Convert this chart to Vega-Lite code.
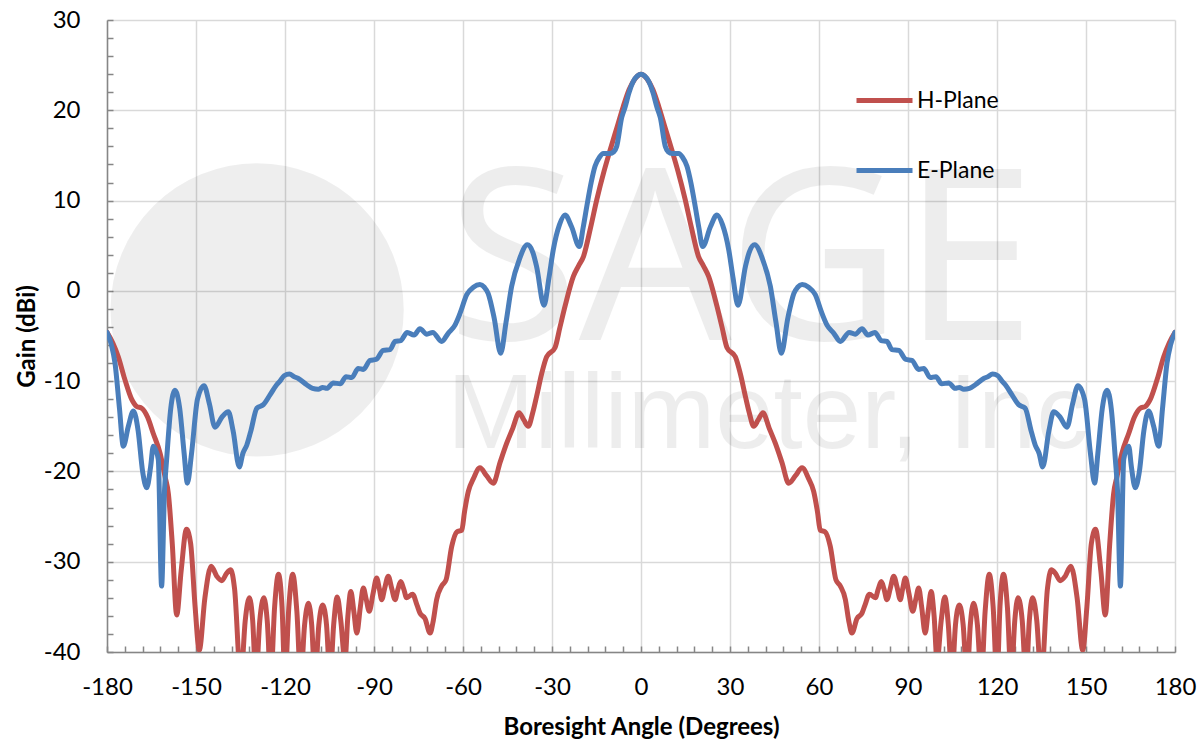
{
  "$schema": "https://vega.github.io/schema/vega-lite/v6.json",
  "width": 1068,
  "height": 632,
  "autosize": "none",
  "padding": {"left": 107, "top": 20, "right": 27, "bottom": 93},
  "background": "white",
  "config": {"view": {"stroke": null}, "font": "Lato"},
  "datasets": {
    "e": [
      {"a":-180,"g":-4.6},{"a":-178.5,"g":-6.0},{"a":-177.3,"g":-8.0},{"a":-175.8,"g":-13},{"a":-174.5,"g":-17.2},{"a":-172.8,"g":-15},{"a":-171.1,"g":-13.3},{"a":-169.5,"g":-15.5},{"a":-168,"g":-20},{"a":-166.6,"g":-21.8},{"a":-165.3,"g":-19.5},{"a":-164.4,"g":-17.2},{"a":-163.4,"g":-17.8},{"a":-162.7,"g":-18.7},{"a":-161.6,"g":-32.7},{"a":-160.6,"g":-22},{"a":-159.9,"g":-18.7},{"a":-158.5,"g":-13},{"a":-157.1,"g":-11.0},{"a":-155.5,"g":-13},{"a":-154,"g":-18},{"a":-152.9,"g":-21.3},{"a":-151.5,"g":-18},{"a":-149.5,"g":-12},{"a":-147.3,"g":-10.5},{"a":-145.5,"g":-12.5},{"a":-143.6,"g":-15.1},{"a":-141.3,"g":-14},{"a":-139.1,"g":-13.4},{"a":-137.5,"g":-15.5},{"a":-135.4,"g":-19.5},{"a":-134.2,"g":-18},{"a":-132.9,"g":-17.1},{"a":-131.5,"g":-15.5},{"a":-129.5,"g":-13.0},{"a":-127.3,"g":-12.6},{"a":-125,"g":-11.5},{"a":-122.8,"g":-10.4},{"a":-121.7,"g":-10.0},{"a":-120.3,"g":-9.4},{"a":-118.5,"g":-9.2},{"a":-117,"g":-9.5},{"a":-115.5,"g":-9.7},{"a":-112.7,"g":-10.4},{"a":-110.7,"g":-10.8},{"a":-108.8,"g":-10.9},{"a":-107.3,"g":-10.7},{"a":-105.9,"g":-10.8},{"a":-103.7,"g":-10.2},{"a":-101.4,"g":-10.3},{"a":-99.4,"g":-9.5},{"a":-97.5,"g":-9.6},{"a":-95.3,"g":-8.6},{"a":-93.6,"g":-8.7},{"a":-91.3,"g":-7.7},{"a":-89.3,"g":-7.6},{"a":-86.9,"g":-6.6},{"a":-84.6,"g":-6.5},{"a":-82.9,"g":-5.6},{"a":-81.0,"g":-5.5},{"a":-78.8,"g":-4.6},{"a":-76.5,"g":-4.9},{"a":-74.5,"g":-4.2},{"a":-72.2,"g":-4.8},{"a":-70.2,"g":-4.6},{"a":-67.2,"g":-5.6},{"a":-65.0,"g":-4.7},{"a":-62.7,"g":-3.8},{"a":-61.0,"g":-2.5},{"a":-58.7,"g":-0.4},{"a":-56.5,"g":0.4},{"a":-54.3,"g":0.7},{"a":-52.8,"g":0.4},{"a":-51.5,"g":-0.3},{"a":-49.5,"g":-3},{"a":-47.3,"g":-6.9},{"a":-45.5,"g":-3.5},{"a":-43.6,"g":0.5},{"a":-41,"g":3.5},{"a":-38.3,"g":5.1},{"a":-36.5,"g":4.3},{"a":-35.2,"g":2.7},{"a":-32.7,"g":-1.6},{"a":-31,"g":1.5},{"a":-29.6,"g":4.5},{"a":-27.5,"g":7.3},{"a":-25.6,"g":8.4},{"a":-23.4,"g":7.1},{"a":-20.8,"g":4.9},{"a":-19.5,"g":7},{"a":-18.3,"g":9.3},{"a":-16.8,"g":12},{"a":-15.5,"g":13.8},{"a":-14,"g":14.8},{"a":-12.7,"g":15.2},{"a":-10.5,"g":15.2},{"a":-9.2,"g":15.4},{"a":-8.2,"g":16.0},{"a":-6.5,"g":19.2},{"a":-5.4,"g":20.3},{"a":-4,"g":22},{"a":-2.6,"g":23.2},{"a":-1.2,"g":23.8},{"a":0,"g":24.0},
      {"a":1.2,"g":23.8},{"a":2.6,"g":23.2},{"a":4,"g":22},{"a":5.4,"g":20.3},{"a":6.5,"g":19.2},{"a":8.2,"g":16.0},{"a":9.2,"g":15.4},{"a":10.5,"g":15.2},{"a":12.7,"g":15.2},{"a":14,"g":14.8},{"a":15.5,"g":13.8},{"a":16.8,"g":12},{"a":18.3,"g":9.3},{"a":19.5,"g":7},{"a":20.8,"g":4.9},{"a":23.4,"g":7.1},{"a":25.6,"g":8.4},{"a":27.5,"g":7.3},{"a":29.6,"g":4.5},{"a":31,"g":1.5},{"a":32.7,"g":-1.6},{"a":35.2,"g":2.7},{"a":36.5,"g":4.3},{"a":38.3,"g":5.1},{"a":41,"g":3.5},{"a":43.6,"g":0.5},{"a":45.5,"g":-3.5},{"a":47.3,"g":-6.9},{"a":49.5,"g":-3},{"a":51.5,"g":-0.3},{"a":52.8,"g":0.4},{"a":54.3,"g":0.7},{"a":56.5,"g":0.4},{"a":58.7,"g":-0.4},{"a":61.0,"g":-2.5},{"a":62.7,"g":-3.8},{"a":65.0,"g":-4.7},{"a":67.2,"g":-5.6},{"a":70.2,"g":-4.6},{"a":72.2,"g":-4.8},{"a":74.5,"g":-4.2},{"a":76.5,"g":-4.9},{"a":78.8,"g":-4.6},{"a":81.0,"g":-5.5},{"a":82.9,"g":-5.6},{"a":84.6,"g":-6.5},{"a":86.9,"g":-6.6},{"a":89.3,"g":-7.6},{"a":91.3,"g":-7.7},{"a":93.6,"g":-8.7},{"a":95.3,"g":-8.6},{"a":97.5,"g":-9.6},{"a":99.4,"g":-9.5},{"a":101.4,"g":-10.3},{"a":103.7,"g":-10.2},{"a":105.9,"g":-10.8},{"a":107.3,"g":-10.7},{"a":108.8,"g":-10.9},{"a":110.7,"g":-10.8},{"a":112.7,"g":-10.4},{"a":115.5,"g":-9.7},{"a":117,"g":-9.5},{"a":118.5,"g":-9.2},{"a":120.3,"g":-9.4},{"a":121.7,"g":-10.0},{"a":122.8,"g":-10.4},{"a":125,"g":-11.5},{"a":127.3,"g":-12.6},{"a":129.5,"g":-13.0},{"a":131.5,"g":-15.5},{"a":132.9,"g":-17.1},{"a":134.2,"g":-18},{"a":135.4,"g":-19.5},{"a":137.5,"g":-15.5},{"a":139.1,"g":-13.4},{"a":141.3,"g":-14},{"a":143.6,"g":-15.1},{"a":145.5,"g":-12.5},{"a":147.3,"g":-10.5},{"a":149.5,"g":-12},{"a":151.5,"g":-18},{"a":152.9,"g":-21.3},{"a":154,"g":-18},{"a":155.5,"g":-13},{"a":157.1,"g":-11.0},{"a":158.5,"g":-13},{"a":159.9,"g":-18.7},{"a":160.6,"g":-22},{"a":161.6,"g":-32.7},{"a":162.7,"g":-18.7},{"a":163.4,"g":-17.8},{"a":164.4,"g":-17.2},{"a":165.3,"g":-19.5},{"a":166.6,"g":-21.8},{"a":168,"g":-20},{"a":169.5,"g":-15.5},{"a":171.1,"g":-13.3},{"a":172.8,"g":-15},{"a":174.5,"g":-17.2},{"a":175.8,"g":-13},{"a":177.3,"g":-8.0},{"a":178.5,"g":-6.0},{"a":180,"g":-4.6}
    ],
    "h": [
      {"a":-180,"g":-4.6},{"a":-178,"g":-5.8},{"a":-176.2,"g":-7.3},{"a":-174,"g":-9.8},{"a":-171.7,"g":-12.0},{"a":-170,"g":-12.8},{"a":-168.3,"g":-13.0},{"a":-166.3,"g":-14},{"a":-164.4,"g":-15.8},{"a":-162.1,"g":-18.0},{"a":-160.5,"g":-20.5},{"a":-159.3,"g":-22.5},{"a":-158,"g":-28},{"a":-156.5,"g":-35.9},{"a":-155,"g":-31},{"a":-153.2,"g":-26.4},{"a":-151.8,"g":-28},{"a":-150.3,"g":-35},{"a":-148.9,"g":-39.8},{"a":-147,"g":-34},{"a":-144.9,"g":-30.5},{"a":-143,"g":-31.6},{"a":-141.3,"g":-32.1},{"a":-139.7,"g":-31.3},{"a":-138.3,"g":-30.9},{"a":-137,"g":-33},{"a":-134.9,"g":-43},{"a":-133.4,"g":-36.5},{"a":-132.0,"g":-34.0},{"a":-130.9,"g":-36.5},{"a":-129.8,"g":-43},{"a":-128.5,"g":-36.5},{"a":-127.1,"g":-34.0},{"a":-126,"g":-36.5},{"a":-124.8,"g":-43},{"a":-123.5,"g":-35},{"a":-122.2,"g":-31.4},{"a":-121,"g":-35},{"a":-120.0,"g":-43},{"a":-118.7,"g":-35},{"a":-117.4,"g":-31.4},{"a":-116,"g":-35.5},{"a":-114.7,"g":-43},{"a":-113.4,"g":-37},{"a":-112.1,"g":-34.6},{"a":-111,"g":-37},{"a":-109.9,"g":-43},{"a":-108.6,"g":-37},{"a":-107.3,"g":-34.8},{"a":-106,"g":-37},{"a":-104.8,"g":-43},{"a":-103.6,"g":-37},{"a":-102.4,"g":-33.9},{"a":-101.2,"g":-36.5},{"a":-99.8,"g":-41},{"a":-98.8,"g":-36},{"a":-97.8,"g":-33.3},{"a":-96.8,"g":-35.5},{"a":-95.8,"g":-37.9},{"a":-94.6,"g":-35},{"a":-93.6,"g":-32.9},{"a":-92.6,"g":-34.2},{"a":-91.6,"g":-35.5},{"a":-90.3,"g":-33.5},{"a":-89.1,"g":-31.8},{"a":-88.2,"g":-33},{"a":-87.4,"g":-34.2},{"a":-86.3,"g":-32.8},{"a":-85.2,"g":-31.6},{"a":-84,"g":-33},{"a":-82.9,"g":-34.2},{"a":-81.9,"g":-33},{"a":-81.0,"g":-32.2},{"a":-80,"g":-33},{"a":-79.0,"g":-34.0},{"a":-77.0,"g":-33.6},{"a":-75.5,"g":-34.8},{"a":-74.5,"g":-35.7},{"a":-72.8,"g":-36.3},{"a":-71.1,"g":-37.9},{"a":-70,"g":-36.5},{"a":-68.9,"g":-34.2},{"a":-67.2,"g":-32.7},{"a":-65.7,"g":-32.0},{"a":-63.8,"g":-28.3},{"a":-62.1,"g":-26.7},{"a":-60.4,"g":-26.5},{"a":-59.5,"g":-24.5},{"a":-58.2,"g":-22.2},{"a":-56.5,"g":-20.8},{"a":-54.3,"g":-19.6},{"a":-52,"g":-20.5},{"a":-49.8,"g":-21.3},{"a":-47.5,"g":-19},{"a":-45.3,"g":-16.9},{"a":-43.2,"g":-15.2},{"a":-41.1,"g":-13.5},{"a":-39.5,"g":-14.3},{"a":-38.0,"g":-15.0},{"a":-36.5,"g":-13.5},{"a":-35.2,"g":-11.7},{"a":-33.5,"g":-9.2},{"a":-31.8,"g":-7.3},{"a":-29.0,"g":-6.3},{"a":-27.3,"g":-4},{"a":-25.6,"g":-1.7},{"a":-22.8,"g":1.6},{"a":-21,"g":2.8},{"a":-19.4,"g":3.8},{"a":-17,"g":7},{"a":-14.9,"g":10.1},{"a":-12.5,"g":13.2},{"a":-10.4,"g":15.6},{"a":-8,"g":18.2},{"a":-6.0,"g":20.4},{"a":-4,"g":22.3},{"a":-2,"g":23.5},{"a":0,"g":24.0},
      {"a":2,"g":23.5},{"a":4,"g":22.3},{"a":6.0,"g":20.4},{"a":8,"g":18.2},{"a":10.4,"g":15.6},{"a":12.5,"g":13.2},{"a":14.9,"g":10.1},{"a":17,"g":7},{"a":19.4,"g":3.8},{"a":21,"g":2.8},{"a":22.8,"g":1.6},{"a":25.6,"g":-1.7},{"a":27.3,"g":-4},{"a":29.0,"g":-6.3},{"a":31.8,"g":-7.3},{"a":33.5,"g":-9.2},{"a":35.2,"g":-11.7},{"a":36.5,"g":-13.5},{"a":38.0,"g":-15.0},{"a":39.5,"g":-14.3},{"a":41.1,"g":-13.5},{"a":43.2,"g":-15.2},{"a":45.3,"g":-16.9},{"a":47.5,"g":-19},{"a":49.8,"g":-21.3},{"a":52,"g":-20.5},{"a":54.3,"g":-19.6},{"a":56.5,"g":-20.8},{"a":58.2,"g":-22.2},{"a":59.5,"g":-24.5},{"a":60.4,"g":-26.5},{"a":62.1,"g":-26.7},{"a":63.8,"g":-28.3},{"a":65.7,"g":-32.0},{"a":67.2,"g":-32.7},{"a":68.9,"g":-34.2},{"a":70,"g":-36.5},{"a":71.1,"g":-37.9},{"a":72.8,"g":-36.3},{"a":74.5,"g":-35.7},{"a":75.5,"g":-34.8},{"a":77.0,"g":-33.6},{"a":79.0,"g":-34.0},{"a":80,"g":-33},{"a":81.0,"g":-32.2},{"a":81.9,"g":-33},{"a":82.9,"g":-34.2},{"a":84,"g":-33},{"a":85.2,"g":-31.6},{"a":86.3,"g":-32.8},{"a":87.4,"g":-34.2},{"a":88.2,"g":-33},{"a":89.1,"g":-31.8},{"a":90.3,"g":-33.5},{"a":91.6,"g":-35.5},{"a":92.6,"g":-34.2},{"a":93.6,"g":-32.9},{"a":94.6,"g":-35},{"a":95.8,"g":-37.9},{"a":96.8,"g":-35.5},{"a":97.8,"g":-33.3},{"a":98.8,"g":-36},{"a":99.8,"g":-41},{"a":101.2,"g":-36.5},{"a":102.4,"g":-33.9},{"a":103.6,"g":-37},{"a":104.8,"g":-43},{"a":106,"g":-37},{"a":107.3,"g":-34.8},{"a":108.6,"g":-37},{"a":109.9,"g":-43},{"a":111,"g":-37},{"a":112.1,"g":-34.6},{"a":113.4,"g":-37},{"a":114.7,"g":-43},{"a":116,"g":-35.5},{"a":117.4,"g":-31.4},{"a":118.7,"g":-35},{"a":120.0,"g":-43},{"a":121,"g":-35},{"a":122.2,"g":-31.4},{"a":123.5,"g":-35},{"a":124.8,"g":-43},{"a":126,"g":-36.5},{"a":127.1,"g":-34.0},{"a":128.5,"g":-36.5},{"a":129.8,"g":-43},{"a":130.9,"g":-36.5},{"a":132.0,"g":-34.0},{"a":133.4,"g":-36.5},{"a":134.9,"g":-43},{"a":137,"g":-33},{"a":138.3,"g":-30.9},{"a":139.7,"g":-31.3},{"a":141.3,"g":-32.1},{"a":143,"g":-31.6},{"a":144.9,"g":-30.5},{"a":147,"g":-34},{"a":148.9,"g":-39.8},{"a":150.3,"g":-35},{"a":151.8,"g":-28},{"a":153.2,"g":-26.4},{"a":155,"g":-31},{"a":156.5,"g":-35.9},{"a":158,"g":-28},{"a":159.3,"g":-22.5},{"a":160.5,"g":-20.5},{"a":162.1,"g":-18.0},{"a":164.4,"g":-15.8},{"a":166.3,"g":-14},{"a":168.3,"g":-13.0},{"a":170,"g":-12.8},{"a":171.7,"g":-12.0},{"a":174,"g":-9.8},{"a":176.2,"g":-7.3},{"a":178,"g":-5.8},{"a":180,"g":-4.6}
    ]
  },
  "encoding": {
    "x": {
      "type": "quantitative",
      "scale": {"domain": [-180, 180], "nice": false, "zero": false},
      "axis": {
        "title": "Boresight Angle (Degrees)",
        "grid": true,
        "tickCount": 200,
        "values": [-180,-174,-168,-162,-156,-150,-144,-138,-132,-126,-120,-114,-108,-102,-96,-90,-84,-78,-72,-66,-60,-54,-48,-42,-36,-30,-24,-18,-12,-6,0,6,12,18,24,30,36,42,48,54,60,66,72,78,84,90,96,102,108,114,120,126,132,138,144,150,156,162,168,174,180],
        "labelExpr": "datum.value % 30 === 0 ? '' + datum.value : ''",
        "labelOverlap": false,
        "labelFlush": false,
        "gridOpacity": {"condition": {"test": "datum.value % 30 === 0", "value": 1}, "value": 0},
        "gridColor": "#D9D9D9",
        "gridWidth": 1.5,
        "domainColor": "#868686",
        "domainWidth": 1.5,
        "tickColor": "#868686",
        "tickWidth": 1.5,
        "tickSize": -6,
        "labelPadding": 29,
        "labelFont": "Lato",
        "labelFontSize": 24,
        "labelColor": "#000000",
        "titleFont": "Lato",
        "titleFontSize": 24,
        "titleFontWeight": "bold",
        "titleColor": "#000000",
        "titlePadding": 16
      }
    },
    "y": {
      "type": "quantitative",
      "scale": {"domain": [-40, 30], "nice": false, "zero": false},
      "axis": {
        "title": "Gain (dBi)",
        "grid": true,
        "tickCount": 200,
        "values": [-40,-38,-36,-34,-32,-30,-28,-26,-24,-22,-20,-18,-16,-14,-12,-10,-8,-6,-4,-2,0,2,4,6,8,10,12,14,16,18,20,22,24,26,28,30],
        "labelExpr": "datum.value % 10 === 0 ? '' + datum.value : ''",
        "labelOverlap": false,
        "labelFlush": false,
        "gridOpacity": {"condition": {"test": "datum.value % 10 === 0", "value": 1}, "value": 0},
        "gridColor": "#D9D9D9",
        "gridWidth": 1.5,
        "domainColor": "#868686",
        "domainWidth": 1.5,
        "tickColor": "#868686",
        "tickWidth": 1.5,
        "tickSize": -6,
        "labelPadding": 33,
        "labelFont": "Lato",
        "labelFontSize": 24,
        "labelColor": "#000000",
        "titleFont": "Lato",
        "titleFontSize": 24,
        "titleFontWeight": "bold",
        "titleColor": "#000000",
        "titlePadding": 4
      }
    }
  },
  "layer": [
    {
      "data": {"values": [{"t": "SAGE"}]},
      "mark": {"type": "point", "shape": "circle", "filled": true, "size": 86000, "color": "#000000", "opacity": 0.065},
      "encoding": {
        "x": {"datum": -129.4, "type": "quantitative"},
        "y": {"datum": -2.1, "type": "quantitative"}
      }
    },
    {
      "data": {"values": [{"t": "SAGE"}]},
      "mark": {"type": "text", "align": "left", "baseline": "alphabetic", "font": "Noto Sans", "fontSize": 240, "color": "#000000", "opacity": 0.065},
      "encoding": {
        "x": {"datum": -65.4, "type": "quantitative"},
        "y": {"datum": -5.4, "type": "quantitative"},
        "text": {"field": "t"}
      }
    },
    {
      "data": {"values": [{"t": "Millimeter, Inc"}]},
      "mark": {"type": "text", "align": "left", "baseline": "alphabetic", "font": "Liberation Sans", "fontSize": 105, "color": "#000000", "opacity": 0.065},
      "encoding": {
        "x": {"datum": -65.4, "type": "quantitative"},
        "y": {"datum": -17.4, "type": "quantitative"},
        "text": {"field": "t"}
      }
    },
    {
      "data": {"name": "h"},
      "mark": {"type": "line", "interpolate": "monotone", "strokeWidth": 5, "clip": true, "strokeCap": "round", "strokeJoin": "round"},
      "encoding": {
        "x": {"field": "a", "type": "quantitative"},
        "y": {"field": "g", "type": "quantitative"},
        "color": {
          "datum": "H-Plane",
          "type": "nominal",
          "scale": {"domain": ["H-Plane", "E-Plane"], "range": ["#C0504D", "#4A7EBB"]},
          "legend": {
            "orient": "none", "legendX": 747, "legendY": 50, "title": null,
            "symbolType": "stroke", "symbolSize": 3136, "symbolStrokeWidth": 5,
            "labelFont": "Lato", "labelFontSize": 23, "labelColor": "#000000",
            "labelOffset": 2, "rowPadding": 27
          }
        }
      }
    },
    {
      "data": {"name": "e"},
      "mark": {"type": "line", "interpolate": "monotone", "strokeWidth": 5, "clip": true, "strokeCap": "round", "strokeJoin": "round"},
      "encoding": {
        "x": {"field": "a", "type": "quantitative"},
        "y": {"field": "g", "type": "quantitative"},
        "color": {"datum": "E-Plane", "type": "nominal"}
      }
    }
  ]
}
